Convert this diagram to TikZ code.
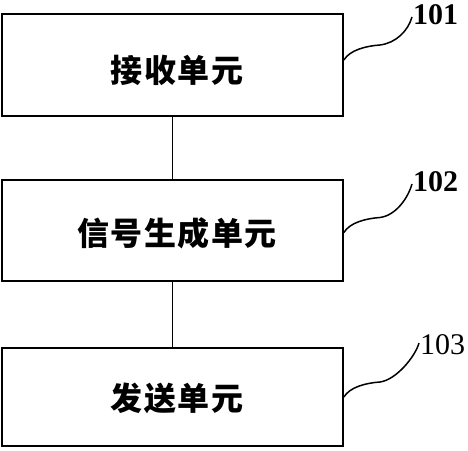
\documentclass[tikz,border=0pt]{standalone}
\usepackage{fontspec}
\setmainfont{Liberation Serif}
\newfontfamily\cjk{Noto Sans CJK SC}
\usetikzlibrary{calc}
\newcommand\cgap{\hspace{1.5pt}}
\tikzset{
  box/.style={draw, line width=1.8pt, minimum width=341pt, inner sep=0pt},
  btext/.style={font=\cjk\bfseries\fontsize{32}{34}\selectfont, inner sep=0pt},
  num/.style={font=\bfseries\fontsize{30}{32}\selectfont, inner sep=1pt, anchor=west},
  link/.style={line width=1.8pt},
  lead/.style={line width=1.5pt}
}
\begin{document}
\begin{tikzpicture}[x=1pt,y=-1pt]
\useasboundingbox (0,0) rectangle (468,450);
\node[box, minimum height=102pt] (b1) at (172.5,65) {};
\node[box, minimum height=101pt] (b2) at (172.5,230.5) {};
\node[box, minimum height=98pt] (b3) at (172.5,397) {};
\node[btext] (t1) at (177,70) {接\cgap 收\cgap 单\cgap 元};
\node[btext] (t2) at (177,233) {信\cgap 号\cgap 生\cgap 成\cgap 单\cgap 元};
\node[btext] (t3) at (177,398) {发\cgap 送\cgap 单\cgap 元};
\draw[link] (b1.south) -- (b2.north);
\draw[link] (b2.south) -- (b3.north);
\node[num] (l1) at (412,15) {101};
\node[num] (l2) at (412,182) {102};
\node[num, font=\fontsize{30}{32}\selectfont] (l3) at (419,345) {103};
\draw[lead] ([yshift=5pt]b1.east) .. controls +(6,-10) and +(-14,1) .. ++(36,-15) .. controls +(16,-2) and +(-4,14) .. ([yshift=-2pt]l1.west);
\draw[lead] ([yshift=-2pt]b2.east) .. controls +(6,-10) and +(-14,1) .. ++(36,-15) .. controls +(16,-2) and +(-4,14) .. ([yshift=-2pt]l2.west);
\draw[lead] (b3.east) .. controls +(6,-10) and +(-14,1) .. ++(36,-15) .. controls +(16,-2) and +(-4,14) .. ([yshift=2pt]l3.west);
\end{tikzpicture}
\end{document}
